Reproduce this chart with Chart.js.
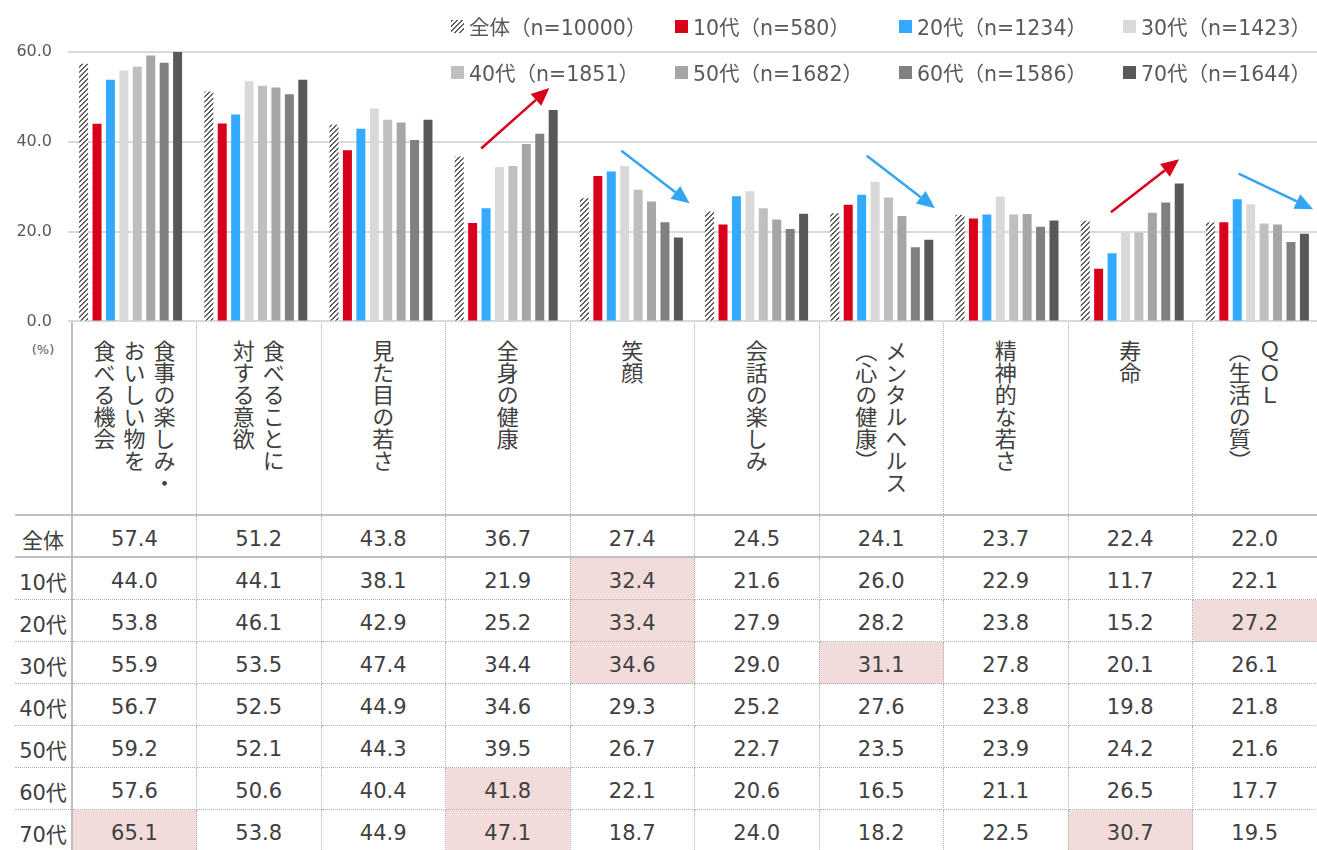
<!DOCTYPE html>
<html lang="ja">
<head>
<meta charset="UTF-8">
<title>年代別の意識</title>
<script src="https://cdn.jsdelivr.net/npm/chart.js@4"></script>
<style>
    body { margin: 0; background: #fff; overflow: hidden; font-family: "DejaVu Sans", "Noto Sans CJK JP", sans-serif; }
    #page { position: relative; width: 1317px; height: 850px; overflow: hidden; }
    #chartWrap { position: absolute; left: 0; top: 0; width: 1320px; height: 347px; }

    .legend-item { position: absolute; display: flex; align-items: center; height: 26px; margin-top: -13px;
                   font-size: 20.5px; color: #595959; white-space: nowrap; }
    .swatch { width: 13px; height: 13px; margin-right: 5px; }

    #dataTable { position: absolute; left: 15px; top: 320px; border-collapse: collapse; table-layout: fixed;
                 width: 1302px; color: #404040; }
    #dataTable td { padding: 0; }
    .corner { height: 172px; vertical-align: top; text-align: center; font-size: 13px; color: #595959;
              padding-top: 22px !important; border-right: 2px solid #bfbfbf; border-bottom: 2px solid #bfbfbf; }
    .cat { vertical-align: top; text-align: center; border-right: 1px dotted #b0b0b0; border-bottom: 2px solid #bfbfbf;
           padding-top: 20px !important; }
    .vlabel { display: inline-block; writing-mode: vertical-rl; text-align: left; font-family: "Noto Sans CJK JP", sans-serif;
              font-size: 22px; line-height: 30px; color: #404040; }
    .rowhead { height: 36px; text-align: center; font-size: 21px; border-right: 2px solid #bfbfbf;
               border-bottom: 1px dotted #b0b0b0; padding-top: 5px !important; }
    .val { height: 36px; text-align: center; font-size: 21px; border-right: 1px dotted #b0b0b0;
           border-bottom: 1px dotted #b0b0b0; padding-top: 5px !important; }
    .first-row td { height: 35px; border-bottom: 2px solid #bfbfbf; }
    .hl { background: #f2dcdb; }
</style>
</head>
<body>
<div id="page">
    <table id="dataTable"></table>
    <div id="chartWrap"><canvas id="chart"></canvas></div>
    <div id="legend"></div>
</div>

<script>
// ===== DATA =====
const categories = [
    ["食事の楽しみ・", "おいしい物を", "食べる機会"],
    ["食べることに", "対する意欲"],
    ["見た目の若さ"],
    ["全身の健康"],
    ["笑顔"],
    ["会話の楽しみ"],
    ["メンタルヘルス", "（心の健康）"],
    ["精神的な若さ"],
    ["寿命"],
    ["ＱＯＬ", "（生活の質）"]
];

const seriesLabels = ["全体（n=10000）", "10代（n=580）", "20代（n=1234）", "30代（n=1423）",
                      "40代（n=1851）", "50代（n=1682）", "60代（n=1586）", "70代（n=1644）"];
const rowLabels = ["全体", "10代", "20代", "30代", "40代", "50代", "60代", "70代"];

const totalValues = [57.4, 51.2, 43.8, 36.7, 27.4, 24.5, 24.1, 23.7, 22.4, 22.0];
const teensValues = [44.0, 44.1, 38.1, 21.9, 32.4, 21.6, 26.0, 22.9, 11.7, 22.1];
const twentiesValues = [53.8, 46.1, 42.9, 25.2, 33.4, 27.9, 28.2, 23.8, 15.2, 27.2];
const thirtiesValues = [55.9, 53.5, 47.4, 34.4, 34.6, 29.0, 31.1, 27.8, 20.1, 26.1];
const fortiesValues = [56.7, 52.5, 44.9, 34.6, 29.3, 25.2, 27.6, 23.8, 19.8, 21.8];
const fiftiesValues = [59.2, 52.1, 44.3, 39.5, 26.7, 22.7, 23.5, 23.9, 24.2, 21.6];
const sixtiesValues = [57.6, 50.6, 40.4, 41.8, 22.1, 20.6, 16.5, 21.1, 26.5, 17.7];
const seventiesValues = [65.1, 53.8, 44.9, 47.1, 18.7, 24.0, 18.2, 22.5, 30.7, 19.5];

const yTicks = [0, 20, 40, 60];

// highlighted table cells: [row, category]
const highlightCells = [[7, 0], [1, 4], [2, 4], [3, 4], [6, 3], [7, 3], [3, 6], [2, 9], [7, 8]];

// trend arrows: category index, start/end as [category offset, value]
const trendArrows = [
    { cat: 3, from: [-0.20, 38.5], to: [0.345, 52.0], color: "#d9001b" },
    { cat: 4, from: [-0.08, 38.0], to: [0.465, 26.3], color: "#33a6f2" },
    { cat: 6, from: [-0.12, 36.9], to: [0.425, 25.2], color: "#33a6f2" },
    { cat: 8, from: [-0.17, 24.3], to: [0.375, 36.1], color: "#d9001b" },
    { cat: 9, from: [-0.15, 32.9], to: [0.445, 25.0], color: "#33a6f2" }
];

const seriesValues = [totalValues, teensValues, twentiesValues, thirtiesValues,
                      fortiesValues, fiftiesValues, sixtiesValues, seventiesValues];
const seriesColors = [null, "#d9001b", "#33aaff", "#d9d9d9", "#bfbfbf", "#a6a6a6", "#808080", "#595959"];

// ===== HATCH PATTERN =====
function makeHatchCanvas() {
    const c = document.createElement("canvas");
    c.width = 5;
    c.height = 5;
    const g = c.getContext("2d");
    g.fillStyle = "#ffffff";
    g.fillRect(0, 0, 5, 5);
    g.fillStyle = "#5f5f5f";
    for (let x = 0; x < 5; x++) {
        for (let y = 0; y < 5; y++) {
            if ((x + y) % 5 < 2) g.fillRect(x, y, 1, 1);
        }
    }
    return c;
}

document.addEventListener("DOMContentLoaded", () => {

    const hatchCanvas = makeHatchCanvas();
    const hatchUrl = hatchCanvas.toDataURL();

    // ================= LEGEND =================
    const legend = document.getElementById("legend");
    legend.innerHTML = seriesLabels.map((label, i) => {
        const bg = seriesColors[i] ? `background:${seriesColors[i]};` : `background-image:url(${hatchUrl});`;
        return `
            <div class="legend-item" style="left:${451 + (i % 4) * 224}px; top:${26 + Math.floor(i / 4) * 46}px;">
                <span class="swatch" style="${bg}"></span>${label}
            </div>`;
    }).join("");

    // ================= TABLE =================
    const isHighlighted = (r, c) => highlightCells.some(h => h[0] === r && h[1] === c);
    const table = document.getElementById("dataTable");
    table.innerHTML = `
        <colgroup>
            <col style="width:57px">
            ${categories.map(() => `<col style="width:124.5px">`).join("")}
        </colgroup>
        <tr>
            <td class="corner">(%)</td>
            ${categories.map(lines => `<td class="cat"><div class="vlabel">${lines.join("<br>")}</div></td>`).join("")}
        </tr>
        ${rowLabels.map((row, r) => `
            <tr class="${r === 0 ? "first-row" : ""}">
                <td class="rowhead">${row}</td>
                ${seriesValues[r].map((v, c) => `<td class="val${isHighlighted(r, c) ? " hl" : ""}">${v.toFixed(1)}</td>`).join("")}
            </tr>
        `).join("")}
    `;

    // ================= CHART =================
    const canvas = document.getElementById("chart");
    const ctx = canvas.getContext("2d");
    const hatch = ctx.createPattern(hatchCanvas, "repeat");

    const arrowPlugin = {
        id: "trendArrows",
        afterDatasetsDraw(chart) {
            const { ctx, scales: { x, y } } = chart;
            const catW = x.width / categories.length;
            trendArrows.forEach(a => {
                const cx = x.getPixelForValue(a.cat);
                const x0 = cx + a.from[0] * catW, y0 = y.getPixelForValue(a.from[1]);
                const x1 = cx + a.to[0] * catW, y1 = y.getPixelForValue(a.to[1]);
                const ang = Math.atan2(y1 - y0, x1 - x0);
                const headLen = 18, headHalf = 8;
                const bx = x1 - headLen * Math.cos(ang), by = y1 - headLen * Math.sin(ang);

                ctx.save();
                ctx.strokeStyle = a.color;
                ctx.fillStyle = a.color;
                ctx.lineWidth = 2.5;
                ctx.beginPath();
                ctx.moveTo(x0, y0);
                ctx.lineTo(bx, by);
                ctx.stroke();
                ctx.beginPath();
                ctx.moveTo(x1, y1);
                ctx.lineTo(bx + headHalf * Math.sin(ang), by - headHalf * Math.cos(ang));
                ctx.lineTo(bx - headHalf * Math.sin(ang), by + headHalf * Math.cos(ang));
                ctx.closePath();
                ctx.fill();
                ctx.restore();
            });
        }
    };

    new Chart(ctx, {
        type: "bar",
        data: {
            labels: categories.map(lines => lines.join("")),
            datasets: seriesValues.map((values, i) => ({
                label: seriesLabels[i],
                data: values,
                backgroundColor: seriesColors[i] || hatch,
                borderWidth: 0
            }))
        },
        options: {
            responsive: true,
            maintainAspectRatio: false,
            animation: false,
            layout: { padding: { top: 52, bottom: 10, left: 0, right: 0 } },
            datasets: { bar: { categoryPercentage: 0.858, barPercentage: 0.67 } },
            plugins: {
                legend: { display: false },
                tooltip: { enabled: false }
            },
            scales: {
                x: { display: false },
                y: {
                    min: 0,
                    max: 60,
                    afterFit(scale) { scale.width = 68; },
                    afterBuildTicks(scale) { scale.ticks = yTicks.map(v => ({ value: v })); },
                    ticks: {
                        callback: v => Number(v).toFixed(1),
                        color: "#595959",
                        font: { size: 16, family: "DejaVu Sans" },
                        padding: 16
                    },
                    grid: { color: "#d9d9d9", lineWidth: 2, drawTicks: false },
                    border: { display: false }
                }
            }
        },
        plugins: [arrowPlugin]
    });

});
</script>
</body>
</html>
